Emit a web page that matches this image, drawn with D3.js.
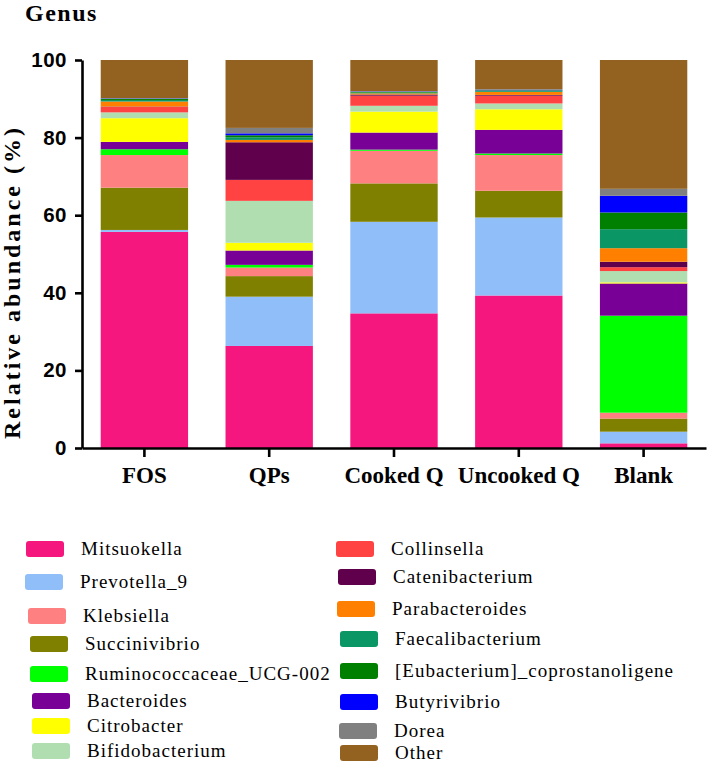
<!DOCTYPE html>
<html>
<head>
<meta charset="utf-8">
<script src="https://cdn.jsdelivr.net/npm/d3@7"></script>
<style>
  html, body { margin: 0; padding: 0; background: #fff; }
  svg { display: block; }
</style>
</head>
<body>
<svg id="chart" width="709" height="764"></svg>
<script>
// ---------------- data ----------------
const samples = ["FOS", "QPs", "Cooked Q", "Uncooked Q", "Blank"];
const yTicks = [0, 20, 40, 60, 80, 100];

const Mitsuokella      = [55.7, 26.3, 34.7, 39.3, 1.2];
const Prevotella_9     = [0.5, 12.7, 23.6, 20.1, 3.0];
const Succinivibrio    = [10.9, 5.3, 9.9, 6.9, 3.4];
const Klebsiella       = [8.4, 2.2, 8.4, 9.2, 1.5];
const Ruminococcaceae  = [1.5, 0.7, 0.3, 0.4, 25.0];
const Bacteroides      = [1.9, 3.7, 4.4, 6.1, 8.3];
const Citrobacter      = [6.1, 2.0, 5.4, 5.3, 0.3];
const Bifidobacterium  = [1.5, 10.8, 1.5, 1.5, 2.9];
const Collinsella      = [1.4, 5.4, 2.6, 2.0, 1.0];
const Catenibacterium  = [0.1, 9.7, 0.3, 0.2, 1.4];
const Parabacteroides  = [1.3, 0.6, 0.3, 0.8, 3.5];
const Faecalibacterium = [0.4, 0.7, 0.2, 0.3, 4.9];
const Eubacterium      = [0.3, 0.5, 0.2, 0.1, 4.3];
const Butyrivibrio     = [0.1, 0.5, 0.1, 0.1, 4.3];
const Dorea            = [0.1, 1.4, 0.1, 0.2, 1.8];
const Other            = [9.8, 17.5, 8.0, 7.5, 33.2];

// stacking order (bottom to top)
const stackKeys = ["Mitsuokella","Prevotella_9","Succinivibrio","Klebsiella",
  "Ruminococcaceae_UCG-002","Bacteroides","Citrobacter","Bifidobacterium",
  "Collinsella","Catenibacterium","Parabacteroides","Faecalibacterium",
  "[Eubacterium]_coprostanoligene","Butyrivibrio","Dorea","Other"];
const seriesValues = {
  "Mitsuokella": Mitsuokella, "Prevotella_9": Prevotella_9,
  "Succinivibrio": Succinivibrio, "Klebsiella": Klebsiella,
  "Ruminococcaceae_UCG-002": Ruminococcaceae, "Bacteroides": Bacteroides,
  "Citrobacter": Citrobacter, "Bifidobacterium": Bifidobacterium,
  "Collinsella": Collinsella, "Catenibacterium": Catenibacterium,
  "Parabacteroides": Parabacteroides, "Faecalibacterium": Faecalibacterium,
  "[Eubacterium]_coprostanoligene": Eubacterium, "Butyrivibrio": Butyrivibrio,
  "Dorea": Dorea, "Other": Other
};
const colors = {
  "Mitsuokella": "#f5167e", "Prevotella_9": "#8fbef8", "Klebsiella": "#ff8080",
  "Succinivibrio": "#808000", "Ruminococcaceae_UCG-002": "#00ff00",
  "Bacteroides": "#780096", "Citrobacter": "#ffff00", "Bifidobacterium": "#b0deb0",
  "Collinsella": "#ff4242", "Catenibacterium": "#60004c", "Parabacteroides": "#ff8000",
  "Faecalibacterium": "#0b9665", "[Eubacterium]_coprostanoligene": "#008000",
  "Butyrivibrio": "#0000ff", "Dorea": "#808080", "Other": "#936220"
};
// legend columns (order as shown)
const legendLeft = ["Mitsuokella","Prevotella_9","Klebsiella","Succinivibrio",
  "Ruminococcaceae_UCG-002","Bacteroides","Citrobacter","Bifidobacterium"];
const legendRight = ["Collinsella","Catenibacterium","Parabacteroides","Faecalibacterium",
  "[Eubacterium]_coprostanoligene","Butyrivibrio","Dorea","Other"];

// ---------------- layout ----------------
const svg = d3.select("#chart");
const serif = "'Liberation Serif', 'Times New Roman', serif";
const sans = "'Liberation Sans', Arial, sans-serif";

const x = d3.scaleBand().domain(samples).range([82, 706]).paddingInner(0.3).paddingOuter(0.15);
const y = d3.scaleLinear().domain([0, 100]).range([448, 60]);

const table = samples.map((s, i) => {
  const row = { sample: s };
  stackKeys.forEach(k => row[k] = seriesValues[k][i]);
  return row;
});
const stacked = d3.stack().keys(stackKeys)(table);

svg.append("g").selectAll("g").data(stacked).join("g")
  .attr("fill", d => colors[d.key])
  .selectAll("rect").data(d => d).join("rect")
  .attr("x", d => x(d.data.sample))
  .attr("width", x.bandwidth())
  .attr("y", d => y(d[1]))
  .attr("height", d => y(d[0]) - y(d[1]));

// y axis
const yAxis = svg.append("g").attr("transform", "translate(82,0)")
  .call(d3.axisLeft(y).tickValues(yTicks).tickSize(7).tickSizeOuter(0).tickPadding(8));
yAxis.select(".domain").attr("stroke-width", 2.6);
yAxis.selectAll(".tick line").attr("stroke-width", 2.6);
yAxis.selectAll(".tick text").attr("font-family", sans).attr("font-weight", "bold")
  .attr("font-size", 20.5).attr("letter-spacing", 0.5).attr("fill", "#000");

// x axis
const xAxis = svg.append("g").attr("transform", "translate(0,448)")
  .call(d3.axisBottom(x).tickSize(9).tickSizeOuter(0).tickPadding(10));
xAxis.select(".domain").attr("stroke-width", 2.6);
xAxis.selectAll(".tick line").attr("stroke-width", 2.6);
xAxis.selectAll(".tick text").attr("font-family", serif).attr("font-weight", "bold")
  .attr("font-size", 23).attr("fill", "#000");

// titles
svg.append("text").attr("x", 25).attr("y", 21)
  .attr("font-family", serif).attr("font-weight", "bold").attr("font-size", 24)
  .attr("letter-spacing", 1.5).text("Genus");

svg.append("text")
  .attr("transform", "translate(20,282) rotate(-90)")
  .attr("text-anchor", "middle")
  .attr("font-family", serif).attr("font-weight", "bold").attr("font-size", 24)
  .attr("letter-spacing", 3).text("Relative abundance (%)");

// legend
const leftRowsY = [541, 574, 608, 636, 666, 693, 718, 743];
const leftRowsX = [26, 25, 28, 30, 30, 32, 32, 32];
const rightRowsY = [541, 569, 601, 631, 663, 694, 723, 745];
const rightRowsX = [336, 338, 337, 340, 340, 340, 339, 340];

function drawLegend(keys, xs, ys) {
  const g = svg.append("g");
  const items = g.selectAll("g").data(keys).join("g")
    .attr("transform", (d, i) => `translate(${xs[i]},${ys[i]})`);
  items.append("rect").attr("width", 38).attr("height", 16).attr("rx", 3)
    .attr("fill", d => colors[d]);
  items.append("text").attr("x", 55).attr("y", 14)
    .attr("font-family", serif).attr("font-size", 19).attr("letter-spacing", 1.0)
    .attr("fill", "#000").text(d => d);
}
drawLegend(legendLeft, leftRowsX, leftRowsY);
drawLegend(legendRight, rightRowsX, rightRowsY);
</script>
</body>
</html>
